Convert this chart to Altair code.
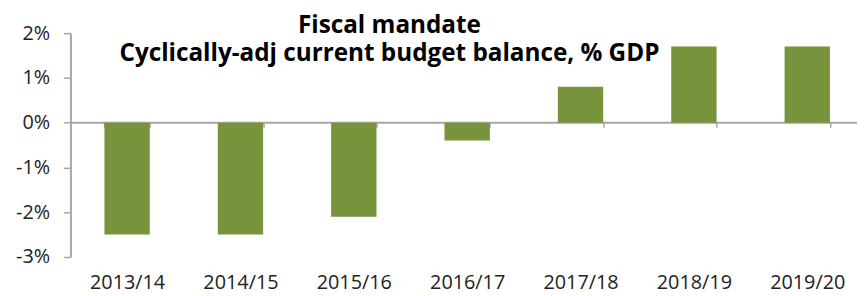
import altair as alt
import pandas as pd

years = ["2013/14", "2014/15", "2015/16", "2016/17", "2017/18", "2018/19", "2019/20"]
balance = [-2.5, -2.5, -2.1, -0.4, 0.8, 1.7, 1.7]
y_ticks = [-3, -2, -1, 0, 1, 2]
title_lines = ["Fiscal mandate", "Cyclically-adj current budget balance, % GDP"]

df = pd.DataFrame({"year": years, "balance": balance})

FONT = "Open Sans"
PLOT_H = 226

bars = alt.Chart(df).mark_bar(color="#77933C").encode(
    x=alt.X(
        "year:N",
        sort=years,
        title=None,
        scale=alt.Scale(range=[0, 801], paddingInner=0.6, paddingOuter=0.3),
        axis=alt.Axis(
            orient="bottom",
            offset=-136,
            domainColor="#a6a6a6",
            domainWidth=2,
            ticks=True,
            tickBand="extent",
            tickColor="#a6a6a6",
            tickWidth=1.5,
            tickSize=5,
            labelPadding=147,
            labelAngle=0,
            labelFont=FONT,
            labelFontSize=20,
            labelColor="#222222",
            grid=False,
        ),
    ),
    y=alt.Y(
        "balance:Q",
        title=None,
        scale=alt.Scale(domain=[-3, 2], nice=False, zero=True),
        axis=alt.Axis(
            values=y_ticks,
            labelExpr="datum.value + '%'",
            domainColor="#a6a6a6",
            domainWidth=2,
            tickColor="#a6a6a6",
            tickWidth=1.5,
            tickSize=7,
            labelPadding=14,
            labelFont=FONT,
            labelFontSize=20,
            labelColor="#222222",
            grid=False,
        ),
    ),
)

chart = bars.properties(
    width=794,
    height=PLOT_H,
    autosize=alt.AutoSizeParams(type="none"),
    padding={"left": 63, "top": 24, "right": 0, "bottom": 38},
    title=alt.TitleParams(
        text=title_lines,
        anchor="middle",
        dx=-75,
        dy=48,
        font=FONT,
        fontSize=24.5,
        fontWeight="bold",
        color="#000000",
        lineHeight=29,
    ),
).configure_view(stroke=None)

chart.save("out.html", embed_options={"renderer": "svg", "actions": False})
